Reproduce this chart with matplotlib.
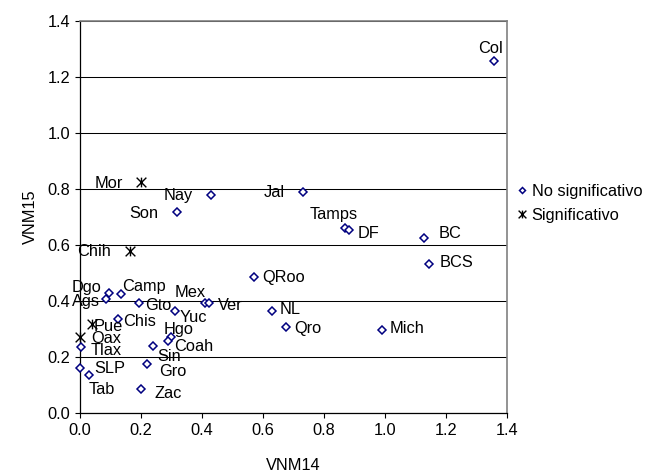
import matplotlib
matplotlib.use("Agg")
import matplotlib.pyplot as plt
from matplotlib.path import Path

plt.rcParams['font.family'] = ['Liberation Sans', 'DejaVu Sans']

# Data: (VNM14, VNM15)
ns_states = ['Dgo', 'Ags', 'Camp', 'Gto', 'Mex', 'Ver', 'Yuc', 'Chis', 'Tlax', 'Hgo',
             'Coah', 'Sin', 'Gro', 'SLP', 'Tab', 'Zac', 'QRoo', 'NL', 'Qro', 'Mich',
             'Nay', 'Son', 'Jal', 'Tamps', 'DF', 'BC', 'BCS', 'Col']
ns_x = [0.096, 0.085, 0.133, 0.195, 0.409, 0.424, 0.310, 0.125, 0.002, 0.297,
        0.287, 0.240, 0.221, 0.001, 0.030, 0.201, 0.572, 0.630, 0.675, 0.989,
        0.430, 0.317, 0.730, 0.870, 0.881, 1.128, 1.144, 1.357]
ns_y = [0.430, 0.406, 0.426, 0.392, 0.392, 0.392, 0.364, 0.335, 0.235, 0.273,
        0.258, 0.238, 0.176, 0.162, 0.135, 0.087, 0.487, 0.363, 0.306, 0.295,
        0.780, 0.717, 0.789, 0.662, 0.652, 0.624, 0.533, 1.258]

s_states = ['Chih', 'Pue', 'Oax', 'Mor']
s_x = [0.164, 0.039, 0.000, 0.199]
s_y = [0.577, 0.318, 0.273, 0.824]

series_labels = ['No significativo', 'Significativo']
ticks = [0.0, 0.2, 0.4, 0.6, 0.8, 1.0, 1.2, 1.4]
tick_labels = ['0.0', '0.2', '0.4', '0.6', '0.8', '1.0', '1.2', '1.4']

# Label placement (offset pixels from point, horizontal alignment)
label_pos = {
    'Chih': (-19, 0, 'right'), 'Dgo': (-8, 5, 'right'), 'Ags': (-6, -2, 'right'),
    'Camp': (2, 7, 'left'), 'Gto': (6, -2, 'left'), 'Mex': (1, 11, 'right'),
    'Ver': (9, -2, 'left'), 'Yuc': (4.6, -6, 'left'), 'Chis': (5, -2, 'left'),
    'Pue': (2, -3, 'left'), 'Oax': (11, -2, 'left'), 'Tlax': (10, -3, 'left'),
    'Hgo': (-7.4, 7.4, 'left'), 'Coah': (6.3, -6, 'left'), 'Sin': (4, -10, 'left'),
    'Gro': (11.4, -8, 'left'), 'SLP': (14, -1.3, 'left'), 'Tab': (-0.7, -14, 'left'),
    'Zac': (12.7, -4.6, 'left'), 'QRoo': (8, -0.6, 'left'), 'NL': (7.6, 1.7, 'left'),
    'Qro': (8.3, -1, 'left'), 'Mich': (7.6, 2, 'left'), 'Mor': (-17.4, -1, 'right'),
    'Nay': (-18.7, -1.3, 'right'), 'Son': (-18, -1, 'right'), 'Jal': (-17.7, -0.7, 'right'),
    'Tamps': (-12, 12.7, 'center'), 'DF': (8.6, -3, 'left'), 'BC': (14.3, 5, 'left'),
    'BCS': (11, 1, 'left'), 'Col': (-3, 12.4, 'center'),
}

W, H = 646, 474
fig = plt.figure(figsize=(W / 100, H / 100), dpi=100)
ax = fig.add_axes([80 / W, 1 - 413 / H, 427 / W, 392 / H])

FS = 11.8
star = Path([(-1, -1), (1, 1), (-1, 1), (1, -1), (0, -1), (0, 1)],
            [Path.MOVETO, Path.LINETO, Path.MOVETO, Path.LINETO, Path.MOVETO, Path.LINETO])

ax.plot(ns_x, ns_y, linestyle='none', marker='D', markersize=3.8,
        markerfacecolor='white', markeredgecolor='#000080', markeredgewidth=1.1,
        label=series_labels[0], zorder=3, clip_on=False)
ax.plot(s_x, s_y, linestyle='none', marker=star, markersize=7,
        markerfacecolor='none', markeredgecolor='black', markeredgewidth=1.0,
        label=series_labels[1], zorder=3, clip_on=False)

for names, xs, ys in ((ns_states, ns_x, ns_y), (s_states, s_x, s_y)):
    for n, x, y in zip(names, xs, ys):
        dx, dy, ha = label_pos[n]
        ax.annotate(n, (x, y), xytext=(dx, dy), textcoords='offset pixels',
                    ha=ha, va='center', fontsize=FS, color='black', zorder=4)

ax.set_xlim(0, 1.4)
ax.set_ylim(0, 1.4)
ax.set_xticks(ticks)
ax.set_xticklabels(tick_labels)
ax.set_yticks(ticks)
ax.set_yticklabels(tick_labels)
ax.tick_params(direction='out', length=3.6, width=0.8, labelsize=FS, colors='black', pad=3.5)
ax.yaxis.grid(True, color='black', linewidth=0.75)
ax.set_axisbelow(True)
for side in ('left', 'bottom'):
    ax.spines[side].set_color('black')
    ax.spines[side].set_linewidth(0.9)
for side in ('top', 'right'):
    ax.spines[side].set_color('#808080')
    ax.spines[side].set_linewidth(1.2)

ax.set_xlabel('VNM14', fontsize=FS)
ax.set_ylabel('VNM15', fontsize=FS)
ax.xaxis.set_label_coords(0.5, (413 - 465) / 392)
ax.xaxis.label.set_va('center')
ax.yaxis.set_label_coords((30 - 80) / 427, 0.5)
ax.yaxis.label.set_va('center')

leg = ax.legend(loc='upper left', bbox_to_anchor=(517 / W, 1 - 184 / H),
                bbox_transform=fig.transFigure, frameon=False, fontsize=FS,
                handlelength=0.6, handletextpad=0.3, labelspacing=0.55,
                borderaxespad=0, borderpad=0, markerscale=0.8)

fig.savefig('out.png', dpi=100)
